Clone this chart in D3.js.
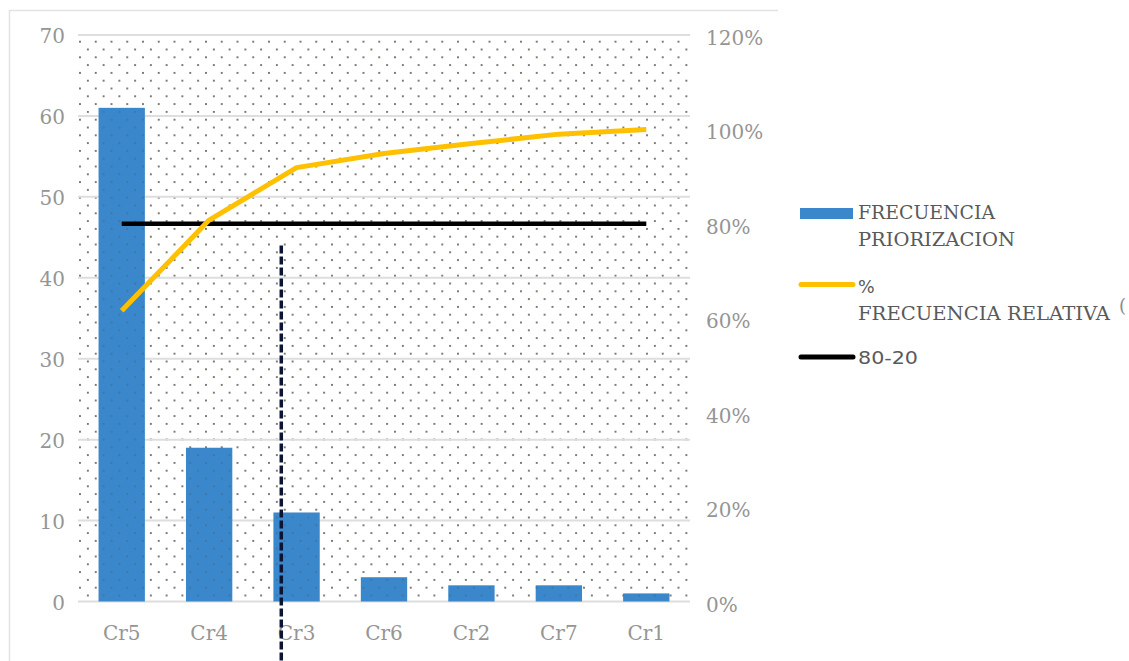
<!DOCTYPE html>
<html><head><meta charset="utf-8">
<script src="https://cdn.jsdelivr.net/npm/d3@7"></script>
<style>
html,body{margin:0;padding:0;background:#fff;}
svg{display:block;}
</style></head>
<body>
<svg id="chart" width="1129" height="661"></svg>
<script>
const categories = ["Cr5","Cr4","Cr3","Cr6","Cr2","Cr7","Cr1"];
const frecuencia = [61,19,11,3,2,2,1];
const porcentajeAcum = [0.616,0.808,0.919,0.949,0.970,0.990,1.000];
const linea8020 = [0.8,0.8,0.8,0.8,0.8,0.8,0.8];
const leftTicks = [0,10,20,30,40,50,60,70];
const rightTicks = [0,0.2,0.4,0.6,0.8,1.0,1.2];
const legendLabels = [["FRECUENCIA","PRIORIZACION"],["%","FRECUENCIA RELATIVA"],["80-20"]];
const cutoff = {category:"Cr3", offset:0.17, fromValue:44};

const svg = d3.select("#chart");
const W=1129,H=661;
const plot = {left:78, right:690, top:35, bottom:601.5};

const x = d3.scaleBand().domain(categories).range([plot.left,plot.right]).paddingInner(0.47).paddingOuter(0.235);
const xc = d => x(d)+x.bandwidth()/2;
const yL = d3.scaleLinear().domain([0,70]).range([plot.bottom,plot.top]);
const yR = d3.scaleLinear().domain([0,1.2]).range([plot.bottom,plot.top]);

// chart border (top + left)
svg.append("path").attr("d",`M9.5,${H} L9.5,10.5 L778,10.5`).attr("fill","none").attr("stroke","#e3e3e3").attr("stroke-width",1.5);

// dotted pattern
const defs = svg.append("defs");
const pat = defs.append("pattern").attr("id","dots").attr("patternUnits","userSpaceOnUse")
  .attr("x",80).attr("y",41.7).attr("width",15.75).attr("height",15.6);
[[0,0],[15.75,0],[0,15.6],[15.75,15.6],[7.875,7.8]].forEach(p=>
  pat.append("circle").attr("cx",p[0]).attr("cy",p[1]).attr("r",0.95).attr("fill","#4a4a3a"));

svg.append("rect").attr("x",plot.left).attr("y",plot.top).attr("width",plot.right-plot.left).attr("height",plot.bottom-plot.top).attr("fill","url(#dots)");

// gridlines
svg.append("g").selectAll("line").data(leftTicks).join("line")
  .attr("x1",plot.left).attr("x2",plot.right)
  .attr("y1",d=>yL(d)).attr("y2",d=>yL(d))
  .attr("stroke","#dedede").attr("stroke-width",2);

// bars
svg.append("g").selectAll("rect").data(categories).join("rect")
  .attr("x",d=>x(d)).attr("width",x.bandwidth())
  .attr("y",(d,i)=>yL(frecuencia[i])).attr("height",(d,i)=>yL(0)-yL(frecuencia[i]))
  .attr("fill","#3a87cb");
// dots over bars (faint)
svg.append("g").selectAll("rect").data(categories).join("rect")
  .attr("x",d=>x(d)).attr("width",x.bandwidth())
  .attr("y",(d,i)=>yL(frecuencia[i])).attr("height",(d,i)=>yL(0)-yL(frecuencia[i]))
  .attr("fill","url(#dots)").attr("opacity",0.35);

// left axis labels
const tickFont = "'DejaVu Serif', serif";
const tickColor = "#959595";
svg.append("g").selectAll("text").data(leftTicks).join("text")
  .attr("x",65).attr("y",d=>yL(d)).attr("dy","0.4em").attr("text-anchor","end")
  .attr("font-family",tickFont).attr("font-size",20).attr("fill",tickColor)
  .text(d=>d);
// right axis labels
const pct = d3.format(".0%");
svg.append("g").selectAll("text").data(rightTicks).join("text")
  .attr("x",706).attr("y",d=>yR(d)).attr("dy","0.5em").attr("text-anchor","start")
  .attr("font-family",tickFont).attr("font-size",20).attr("fill",tickColor)
  .text(d=>pct(d));
// category labels
svg.append("g").selectAll("text").data(categories).join("text")
  .attr("x",d=>xc(d)).attr("y",640).attr("text-anchor","middle")
  .attr("font-family",tickFont).attr("font-size",20).attr("fill",tickColor)
  .text(d=>d);

// 80-20 line
const line = d3.line().x((d,i)=>xc(categories[i])).y(d=>yR(d));
svg.append("path").datum(linea8020).attr("d",line).attr("fill","none").attr("stroke","#000").attr("stroke-width",4.5);
// cumulative % line
svg.append("path").datum(porcentajeAcum).attr("d",line).attr("fill","none").attr("stroke","#ffc000").attr("stroke-width",5).attr("stroke-linejoin","round");

// cutoff dashed line
const cx = x(cutoff.category)+x.bandwidth()*cutoff.offset;
svg.append("line").attr("x1",cx).attr("x2",cx).attr("y1",yL(cutoff.fromValue)).attr("y2",H)
  .attr("stroke","#0b1533").attr("stroke-width",3.5).attr("stroke-dasharray","8,3");

// legend
const lf = "'DejaVu Serif', serif";
const lg = svg.append("g");
lg.append("rect").attr("x",800).attr("y",208).attr("width",53).attr("height",11).attr("fill","#3a87cb");
lg.append("line").attr("x1",801).attr("x2",853).attr("y1",284.5).attr("y2",284.5).attr("stroke","#ffc000").attr("stroke-width",5).attr("stroke-linecap","round");
lg.append("line").attr("x1",801).attr("x2",853).attr("y1",357).attr("y2",357).attr("stroke","#000").attr("stroke-width",5).attr("stroke-linecap","round");
const lbase = [219, 293, 363.5];
const lwidths = [[137,157],[null,252],[60]];
legendLabels.forEach((lines,i)=>{
  lines.forEach((t,j)=>{
    const isSans = (i===2) || (i===1 && j===0);
    const tx = lg.append("text").attr("x",858).attr("y",lbase[i]+j*27)
      .attr("font-family", isSans ? "'DejaVu Sans', sans-serif" : lf)
      .attr("font-size", isSans ? 17.5 : 19).attr("fill","#595959")
      .text(t);
    if (lwidths[i][j]) tx.attr("textLength", lwidths[i][j]).attr("lengthAdjust","spacingAndGlyphs");
  });
});
lg.append("text").attr("x",1119).attr("y",312).attr("font-family",lf).attr("font-size",18).attr("fill","#8c8c8c").text("(");
</script>
</body></html>
